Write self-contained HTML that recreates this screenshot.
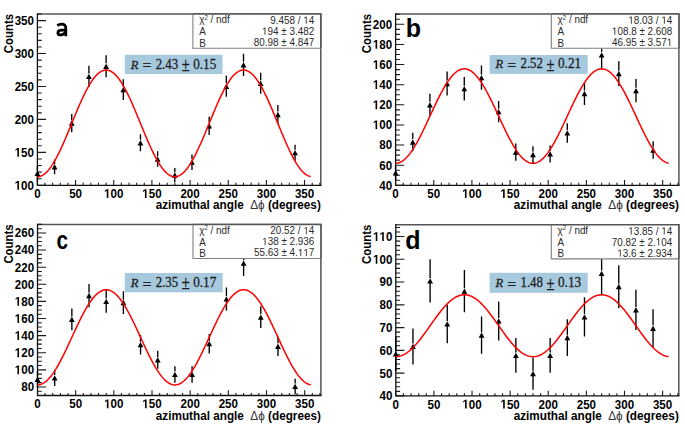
<!DOCTYPE html><html><head><meta charset="utf-8"><style>html,body{margin:0;padding:0;background:#fff;overflow:hidden;}svg{display:block;}text{font-kerning:none;font-variant-ligatures:none;}.tl{font-family:"Liberation Sans",sans-serif;font-weight:bold;font-size:11.6px;fill:#000;white-space:pre;}.st{font-family:"Liberation Sans",sans-serif;font-size:9.9px;fill:#2a2a2a;}.lt{font-family:"Liberation Sans",sans-serif;font-weight:bold;font-size:25px;fill:#000;}.rt{font-family:"Liberation Serif",serif;font-size:13.5px;fill:#1a1a1a;stroke:#1a1a1a;stroke-width:0.25px;}</style></head><body>
<svg width="685" height="425" viewBox="0 0 685 425">
<rect width="685" height="425" fill="#fff"/>
<g><path d="M37.4 14H320.8V185.3" fill="none" stroke="#555" stroke-width="1.5"/><path d="M37.4 13.3V185.3H321.5" fill="none" stroke="#111" stroke-width="1.3"/><path d="M37.4 185.3h8.6 M37.4 178.71h4.3 M37.4 172.12h4.3 M37.4 165.53h4.3 M37.4 158.95h4.3 M37.4 152.36h8.6 M37.4 145.77h4.3 M37.4 139.18h4.3 M37.4 132.59h4.3 M37.4 126h4.3 M37.4 119.42h8.6 M37.4 112.83h4.3 M37.4 106.24h4.3 M37.4 99.65h4.3 M37.4 93.06h4.3 M37.4 86.47h8.6 M37.4 79.88h4.3 M37.4 73.3h4.3 M37.4 66.71h4.3 M37.4 60.12h4.3 M37.4 53.53h8.6 M37.4 46.94h4.3 M37.4 40.35h4.3 M37.4 33.77h4.3 M37.4 27.18h4.3 M37.4 20.59h8.6 M37.4 14h4.3 M37.4 185.3v-5.2 M45.03 185.3v-2.6 M52.67 185.3v-2.6 M60.3 185.3v-2.6 M67.93 185.3v-2.6 M75.57 185.3v-5.2 M83.2 185.3v-2.6 M90.84 185.3v-2.6 M98.47 185.3v-2.6 M106.1 185.3v-2.6 M113.74 185.3v-5.2 M121.37 185.3v-2.6 M129 185.3v-2.6 M136.64 185.3v-2.6 M144.27 185.3v-2.6 M151.91 185.3v-5.2 M159.54 185.3v-2.6 M167.17 185.3v-2.6 M174.81 185.3v-2.6 M182.44 185.3v-2.6 M190.07 185.3v-5.2 M197.71 185.3v-2.6 M205.34 185.3v-2.6 M212.97 185.3v-2.6 M220.61 185.3v-2.6 M228.24 185.3v-5.2 M235.88 185.3v-2.6 M243.51 185.3v-2.6 M251.14 185.3v-2.6 M258.78 185.3v-2.6 M266.41 185.3v-5.2 M274.04 185.3v-2.6 M281.68 185.3v-2.6 M289.31 185.3v-2.6 M296.94 185.3v-2.6 M304.58 185.3v-5.2 M312.21 185.3v-2.6 M319.85 185.3v-2.6" stroke="#1a1a1a" stroke-width="1.1" fill="none"/><g transform="translate(34,189.72) scale(1,1.1)"><text class="tl" x="-19.35" y="0"> 00</text><path d="M-16.65 0L-16.65 -6.63L-18.56 -5.43L-18.56 -6.68L-16.56 -7.98L-15.06 -7.98L-15.06 0Z" fill="#000"/></g><g transform="translate(34,156.77) scale(1,1.1)"><text class="tl" x="-19.35" y="0"> 50</text><path d="M-16.65 0L-16.65 -6.63L-18.56 -5.43L-18.56 -6.68L-16.56 -7.98L-15.06 -7.98L-15.06 0Z" fill="#000"/></g><g transform="translate(34,123.83) scale(1,1.1)"><text class="tl" x="-19.35" y="0">200</text></g><g transform="translate(34,90.89) scale(1,1.1)"><text class="tl" x="-19.35" y="0">250</text></g><g transform="translate(34,57.95) scale(1,1.1)"><text class="tl" x="-19.35" y="0">300</text></g><g transform="translate(34,25) scale(1,1.1)"><text class="tl" x="-19.35" y="0">350</text></g><g transform="translate(37.4,197.97) scale(1,1.1)"><text class="tl" x="-3.23" y="0">0</text></g><g transform="translate(75.57,197.97) scale(1,1.1)"><text class="tl" x="-6.45" y="0">50</text></g><g transform="translate(113.74,197.97) scale(1,1.1)"><text class="tl" x="-9.68" y="0"> 00</text><path d="M-6.97 0L-6.97 -6.63L-8.88 -5.43L-8.88 -6.68L-6.88 -7.98L-5.38 -7.98L-5.38 0Z" fill="#000"/></g><g transform="translate(151.91,197.97) scale(1,1.1)"><text class="tl" x="-9.68" y="0"> 50</text><path d="M-6.97 0L-6.97 -6.63L-8.88 -5.43L-8.88 -6.68L-6.88 -7.98L-5.38 -7.98L-5.38 0Z" fill="#000"/></g><g transform="translate(190.07,197.97) scale(1,1.1)"><text class="tl" x="-9.68" y="0">200</text></g><g transform="translate(228.24,197.97) scale(1,1.1)"><text class="tl" x="-9.68" y="0">250</text></g><g transform="translate(266.41,197.97) scale(1,1.1)"><text class="tl" x="-9.68" y="0">300</text></g><g transform="translate(304.58,197.97) scale(1,1.1)"><text class="tl" x="-9.68" y="0">350</text></g><text class="tl" style="font-size:11.75px" transform="translate(320.8,209.3) scale(1,1.06)" text-anchor="end">azimuthal angle  <tspan style="font-weight:normal;fill:#333">Δϕ</tspan> (degrees)</text><text class="tl" style="font-size:11.4px" transform="translate(12.8,14) rotate(-90) scale(1,1.1)" x="0" y="0" text-anchor="end">Counts</text><path d="M57.3,25.7 C58.7,24.6 60.2,24.2 61.7,24.2 C64.6,24.2 65.8,25.6 65.8,28.4 V36.2" fill="none" stroke="#000" stroke-width="2.8"/><path d="M65.6,30.1 H62.1 C59.3,30.1 57.9,31.2 57.9,32.9 C57.9,34.3 59.0,34.9 60.4,34.9 C62.3,34.9 64.1,33.9 65.4,32.5" fill="none" stroke="#000" stroke-width="2.8"/><path d="M37.4 166.28V170.49 M37.4 173.44V180.6 M54.58 159.4V163.9 M54.58 166.85V174.31 M71.75 113.92V120.15 M71.75 123.1V132.29 M88.93 65.66V73.44 M88.93 76.39V87.12 M106.1 55.28V63.36 M106.1 66.31V77.35 M123.28 79.32V86.69 M123.28 89.64V99.95 M140.45 134.35V139.85 M140.45 142.8V151.25 M157.63 151.29V156.13 M157.63 159.08V166.87 M174.81 168.01V172.14 M174.81 175.09V182.17 M191.98 154.59V159.29 M191.98 162.24V169.9 M209.16 116.72V122.86 M209.16 125.81V134.89 M226.33 75.85V83.33 M226.33 86.28V96.7 M243.51 53.72V61.85 M243.51 64.8V75.88 M260.68 72.79V80.36 M260.68 83.31V93.83 M277.86 105.05V111.59 M277.86 114.54V124.03 M295.04 144.63V149.74 M295.04 152.69V160.74" stroke="#000" stroke-width="1.35" fill="none"/><path d="M37.4 170.69L40.3 176.04L34.5 176.04Z M54.58 164.1L57.48 169.45L51.68 169.45Z M71.75 120.35L74.65 125.7L68.85 125.7Z M88.93 73.64L91.83 78.99L86.03 78.99Z M106.1 63.56L109 68.91L103.2 68.91Z M123.28 86.89L126.18 92.24L120.38 92.24Z M140.45 140.05L143.35 145.4L137.55 145.4Z M157.63 156.33L160.53 161.68L154.73 161.68Z M174.81 172.34L177.71 177.69L171.91 177.69Z M191.98 159.49L194.88 164.84L189.08 164.84Z M209.16 123.06L212.06 128.41L206.26 128.41Z M226.33 83.53L229.23 88.88L223.43 88.88Z M243.51 62.05L246.41 67.4L240.61 67.4Z M260.68 80.56L263.58 85.91L257.78 85.91Z M277.86 111.79L280.76 117.14L274.96 117.14Z M295.04 149.94L297.94 155.29L292.14 155.29Z" fill="#000"/><polyline points="37.4,176.72 38.54,176.65 39.68,176.43 40.82,176.07 41.95,175.57 43.09,174.92 44.23,174.14 45.37,173.22 46.51,172.16 47.65,170.97 48.79,169.65 49.93,168.21 51.06,166.64 52.2,164.96 53.34,163.16 54.48,161.26 55.62,159.25 56.76,157.15 57.9,154.95 59.04,152.67 60.17,150.31 61.31,147.88 62.45,145.38 63.59,142.82 64.73,140.21 65.87,137.55 67.01,134.86 68.14,132.13 69.28,129.38 70.42,126.61 71.56,123.83 72.7,121.06 73.84,118.29 74.98,115.53 76.12,112.79 77.25,110.08 78.39,107.41 79.53,104.79 80.67,102.21 81.81,99.69 82.95,97.23 84.09,94.85 85.22,92.54 86.36,90.31 87.5,88.18 88.64,86.14 89.78,84.2 90.92,82.37 92.06,80.65 93.2,79.04 94.33,77.56 95.47,76.19 96.61,74.96 97.75,73.86 98.89,72.89 100.03,72.06 101.17,71.37 102.31,70.82 103.44,70.41 104.58,70.14 105.72,70.02 106.86,70.05 108,70.22 109.14,70.53 110.28,70.98 111.41,71.58 112.55,72.32 113.69,73.2 114.83,74.21 115.97,75.35 117.11,76.63 118.25,78.03 119.39,79.56 120.52,81.2 121.66,82.96 122.8,84.83 123.94,86.8 125.08,88.87 126.22,91.04 127.36,93.29 128.5,95.62 129.63,98.03 130.77,100.51 131.91,103.05 133.05,105.65 134.19,108.29 135.33,110.97 136.47,113.69 137.6,116.44 138.74,119.2 139.88,121.97 141.02,124.75 142.16,127.52 143.3,130.29 144.44,133.03 145.58,135.75 146.71,138.43 147.85,141.08 148.99,143.67 150.13,146.21 151.27,148.69 152.41,151.1 153.55,153.43 154.68,155.69 155.82,157.85 156.96,159.93 158.1,161.9 159.24,163.77 160.38,165.53 161.52,167.17 162.66,168.7 163.79,170.1 164.93,171.38 166.07,172.52 167.21,173.54 168.35,174.41 169.49,175.15 170.63,175.75 171.77,176.21 172.9,176.52 174.04,176.69 175.18,176.71 176.32,176.59 177.46,176.33 178.6,175.92 179.74,175.37 180.87,174.68 182.01,173.85 183.15,172.88 184.29,171.78 185.43,170.55 186.57,169.19 187.71,167.7 188.85,166.1 189.98,164.38 191.12,162.55 192.26,160.61 193.4,158.57 194.54,156.44 195.68,154.21 196.82,151.9 197.96,149.52 199.09,147.06 200.23,144.54 201.37,141.97 202.51,139.34 203.65,136.67 204.79,133.96 205.93,131.22 207.06,128.47 208.2,125.7 209.34,122.92 210.48,120.14 211.62,117.37 212.76,114.62 213.9,111.9 215.04,109.2 216.17,106.54 217.31,103.93 218.45,101.37 219.59,98.87 220.73,96.44 221.87,94.08 223.01,91.8 224.15,89.6 225.28,87.5 226.42,85.49 227.56,83.58 228.7,81.79 229.84,80.1 230.98,78.54 232.12,77.09 233.25,75.77 234.39,74.58 235.53,73.53 236.67,72.6 237.81,71.82 238.95,71.17 240.09,70.67 241.23,70.31 242.36,70.09 243.5,70.02 244.64,70.09 245.78,70.3 246.92,70.66 248.06,71.16 249.2,71.81 250.33,72.59 251.47,73.51 252.61,74.57 253.75,75.76 254.89,77.08 256.03,78.52 257.17,80.09 258.31,81.77 259.44,83.56 260.58,85.47 261.72,87.47 262.86,89.58 264,91.77 265.14,94.05 266.28,96.41 267.42,98.84 268.55,101.34 269.69,103.9 270.83,106.51 271.97,109.17 273.11,111.87 274.25,114.59 275.39,117.34 276.52,120.11 277.66,122.89 278.8,125.66 279.94,128.44 281.08,131.19 282.22,133.93 283.36,136.64 284.5,139.31 285.63,141.94 286.77,144.51 287.91,147.04 289.05,149.49 290.19,151.88 291.33,154.19 292.47,156.41 293.61,158.55 294.74,160.59 295.88,162.53 297.02,164.36 298.16,166.08 299.3,167.69 300.44,169.17 301.58,170.53 302.71,171.77 303.85,172.87 304.99,173.84 306.13,174.67 307.27,175.36 308.41,175.92 309.55,176.33 310.69,176.59" fill="none" stroke="#ff0000" stroke-width="1.5"/><rect x="192.9" y="14" width="127.9" height="34.3" fill="#fff"/><path d="M192.9 14V48.3H320.8" fill="none" stroke="#808080" stroke-width="1.1"/><path d="M192.9 14H320.8V48.3" fill="none" stroke="#555" stroke-width="1.5"/><text class="st" transform="translate(199.2,23.1) scale(1,1.06)">χ<tspan dy="-3.3" font-size="6px">2</tspan><tspan dy="3.3"> / ndf</tspan></text><g transform="translate(314.3,23.8) scale(1,1.06)"><text class="st" x="-44.04" y="0">9.458 /  4</text><path d="M-8.52 0L-8.52 -5.98L-10.06 -4.88L-10.06 -5.7L-8.45 -6.81L-7.65 -6.81L-7.65 0Z" fill="#2a2a2a"/></g><text class="st" transform="translate(199.2,35.2) scale(1,1.06)">A</text><g transform="translate(314.3,34.8) scale(1,1.06)"><text class="st" x="-52.23" y="0"> 94 ± 3.482</text><path d="M-49.74 0L-49.74 -5.98L-51.27 -4.88L-51.27 -5.7L-49.66 -6.81L-48.86 -6.81L-48.86 0Z" fill="#2a2a2a"/></g><text class="st" transform="translate(199.2,46.5) scale(1,1.06)">B</text><g transform="translate(314.3,45.9) scale(1,1.06)"><text class="st" x="-60.48" y="0">80.98 ± 4.847</text></g><rect x="124.8" y="54.8" width="97.7" height="19.3" fill="#a7c9dd"/><text class="rt" transform="translate(130.8,68.6) scale(1,1.08)" style="font-style:italic;font-size:12.5px">R</text><text class="rt" x="142.4" y="71.4" style="font-size:15.8px">=</text><text class="rt" transform="translate(155.7,68.6) scale(1,1.1)" style="font-size:12.8px">2.43</text><text class="rt" transform="translate(181.7,69.6) scale(1,1.25)" y="1.2" style="font-size:14.5px">±</text><text class="rt" transform="translate(193.2,68.6) scale(1,1.1)" style="font-size:13.2px">0.15</text></g>
<g><path d="M395.6 14H678.9V185.3" fill="none" stroke="#555" stroke-width="1.5"/><path d="M395.6 13.3V185.3H679.6" fill="none" stroke="#111" stroke-width="1.3"/><path d="M395.6 185.3h8.6 M395.6 180.27h4.3 M395.6 175.24h4.3 M395.6 170.21h4.3 M395.6 165.18h8.6 M395.6 160.14h4.3 M395.6 155.11h4.3 M395.6 150.08h4.3 M395.6 145.05h8.6 M395.6 140.02h4.3 M395.6 134.99h4.3 M395.6 129.96h4.3 M395.6 124.93h8.6 M395.6 119.9h4.3 M395.6 114.86h4.3 M395.6 109.83h4.3 M395.6 104.8h8.6 M395.6 99.77h4.3 M395.6 94.74h4.3 M395.6 89.71h4.3 M395.6 84.68h8.6 M395.6 79.65h4.3 M395.6 74.62h4.3 M395.6 69.58h4.3 M395.6 64.55h8.6 M395.6 59.52h4.3 M395.6 54.49h4.3 M395.6 49.46h4.3 M395.6 44.43h8.6 M395.6 39.4h4.3 M395.6 34.37h4.3 M395.6 29.33h4.3 M395.6 24.3h8.6 M395.6 19.27h4.3 M395.6 14.24h4.3 M395.6 185.3v-5.2 M403.23 185.3v-2.6 M410.86 185.3v-2.6 M418.49 185.3v-2.6 M426.12 185.3v-2.6 M433.75 185.3v-5.2 M441.39 185.3v-2.6 M449.02 185.3v-2.6 M456.65 185.3v-2.6 M464.28 185.3v-2.6 M471.91 185.3v-5.2 M479.54 185.3v-2.6 M487.17 185.3v-2.6 M494.8 185.3v-2.6 M502.43 185.3v-2.6 M510.06 185.3v-5.2 M517.7 185.3v-2.6 M525.33 185.3v-2.6 M532.96 185.3v-2.6 M540.59 185.3v-2.6 M548.22 185.3v-5.2 M555.85 185.3v-2.6 M563.48 185.3v-2.6 M571.11 185.3v-2.6 M578.74 185.3v-2.6 M586.37 185.3v-5.2 M594.01 185.3v-2.6 M601.64 185.3v-2.6 M609.27 185.3v-2.6 M616.9 185.3v-2.6 M624.53 185.3v-5.2 M632.16 185.3v-2.6 M639.79 185.3v-2.6 M647.42 185.3v-2.6 M655.05 185.3v-2.6 M662.68 185.3v-5.2 M670.32 185.3v-2.6 M677.95 185.3v-2.6" stroke="#1a1a1a" stroke-width="1.1" fill="none"/><g transform="translate(392.2,189.72) scale(1,1.1)"><text class="tl" x="-12.9" y="0">40</text></g><g transform="translate(392.2,169.59) scale(1,1.1)"><text class="tl" x="-12.9" y="0">60</text></g><g transform="translate(392.2,149.47) scale(1,1.1)"><text class="tl" x="-12.9" y="0">80</text></g><g transform="translate(392.2,129.34) scale(1,1.1)"><text class="tl" x="-19.35" y="0"> 00</text><path d="M-16.65 0L-16.65 -6.63L-18.56 -5.43L-18.56 -6.68L-16.56 -7.98L-15.06 -7.98L-15.06 0Z" fill="#000"/></g><g transform="translate(392.2,109.22) scale(1,1.1)"><text class="tl" x="-19.35" y="0"> 20</text><path d="M-16.65 0L-16.65 -6.63L-18.56 -5.43L-18.56 -6.68L-16.56 -7.98L-15.06 -7.98L-15.06 0Z" fill="#000"/></g><g transform="translate(392.2,89.09) scale(1,1.1)"><text class="tl" x="-19.35" y="0"> 40</text><path d="M-16.65 0L-16.65 -6.63L-18.56 -5.43L-18.56 -6.68L-16.56 -7.98L-15.06 -7.98L-15.06 0Z" fill="#000"/></g><g transform="translate(392.2,68.97) scale(1,1.1)"><text class="tl" x="-19.35" y="0"> 60</text><path d="M-16.65 0L-16.65 -6.63L-18.56 -5.43L-18.56 -6.68L-16.56 -7.98L-15.06 -7.98L-15.06 0Z" fill="#000"/></g><g transform="translate(392.2,48.84) scale(1,1.1)"><text class="tl" x="-19.35" y="0"> 80</text><path d="M-16.65 0L-16.65 -6.63L-18.56 -5.43L-18.56 -6.68L-16.56 -7.98L-15.06 -7.98L-15.06 0Z" fill="#000"/></g><g transform="translate(392.2,28.72) scale(1,1.1)"><text class="tl" x="-19.35" y="0">200</text></g><g transform="translate(395.6,197.97) scale(1,1.1)"><text class="tl" x="-3.23" y="0">0</text></g><g transform="translate(433.75,197.97) scale(1,1.1)"><text class="tl" x="-6.45" y="0">50</text></g><g transform="translate(471.91,197.97) scale(1,1.1)"><text class="tl" x="-9.68" y="0"> 00</text><path d="M-6.97 0L-6.97 -6.63L-8.88 -5.43L-8.88 -6.68L-6.88 -7.98L-5.38 -7.98L-5.38 0Z" fill="#000"/></g><g transform="translate(510.06,197.97) scale(1,1.1)"><text class="tl" x="-9.68" y="0"> 50</text><path d="M-6.97 0L-6.97 -6.63L-8.88 -5.43L-8.88 -6.68L-6.88 -7.98L-5.38 -7.98L-5.38 0Z" fill="#000"/></g><g transform="translate(548.22,197.97) scale(1,1.1)"><text class="tl" x="-9.68" y="0">200</text></g><g transform="translate(586.37,197.97) scale(1,1.1)"><text class="tl" x="-9.68" y="0">250</text></g><g transform="translate(624.53,197.97) scale(1,1.1)"><text class="tl" x="-9.68" y="0">300</text></g><g transform="translate(662.68,197.97) scale(1,1.1)"><text class="tl" x="-9.68" y="0">350</text></g><text class="tl" style="font-size:11.75px" transform="translate(678.9,209.3) scale(1,1.06)" text-anchor="end">azimuthal angle  <tspan style="font-weight:normal;fill:#333">Δϕ</tspan> (degrees)</text><text class="tl" style="font-size:11.4px" transform="translate(371.1,14) rotate(-90) scale(1,1.1)" x="0" y="0" text-anchor="end">Counts</text><text class="lt" transform="translate(405.7,36.5) scale(1.0,1)">b</text><path d="M395.6 165.54V169.87 M395.6 172.82V180.11 M412.77 132.87V139.08 M412.77 142.03V151.2 M429.94 93.78V101.85 M429.94 104.8V115.82 M447.11 71.62V80.62 M447.11 83.57V95.52 M464.28 76.97V85.75 M464.28 88.7V100.44 M481.45 65.43V74.68 M481.45 77.63V89.83 M498.62 100.94V108.69 M498.62 111.64V122.35 M515.79 143.5V149.14 M515.79 152.09V160.69 M532.96 146.16V151.66 M532.96 154.61V163.06 M550.13 145.42V150.96 M550.13 153.91V162.4 M567.3 123.32V130.03 M567.3 132.98V142.63 M584.47 82.01V90.58 M584.47 93.53V105.06 M601.64 41.89V52.04 M601.64 54.99V68.09 M618.81 61.24V70.66 M618.81 73.61V85.97 M635.98 79.07V87.76 M635.98 90.71V102.36 M653.15 141.37V147.13 M653.15 150.08V158.8" stroke="#000" stroke-width="1.35" fill="none"/><path d="M395.6 170.07L398.5 175.42L392.7 175.42Z M412.77 139.28L415.67 144.63L409.87 144.63Z M429.94 102.05L432.84 107.4L427.04 107.4Z M447.11 80.82L450.01 86.17L444.21 86.17Z M464.28 85.95L467.18 91.3L461.38 91.3Z M481.45 74.88L484.35 80.23L478.55 80.23Z M498.62 108.89L501.52 114.24L495.72 114.24Z M515.79 149.34L518.69 154.69L512.89 154.69Z M532.96 151.86L535.86 157.21L530.06 157.21Z M550.13 151.16L553.03 156.51L547.23 156.51Z M567.3 130.23L570.2 135.58L564.4 135.58Z M584.47 90.78L587.37 96.13L581.57 96.13Z M601.64 52.24L604.54 57.59L598.74 57.59Z M618.81 70.86L621.71 76.21L615.91 76.21Z M635.98 87.96L638.88 93.31L633.08 93.31Z M653.15 147.33L656.05 152.68L650.25 152.68Z" fill="#000"/><polyline points="395.6,163.31 396.74,163.25 397.88,163.06 399.01,162.74 400.15,162.29 401.29,161.72 402.43,161.03 403.57,160.21 404.71,159.27 405.84,158.22 406.98,157.05 408.12,155.77 409.26,154.39 410.4,152.9 411.54,151.31 412.67,149.62 413.81,147.85 414.95,145.98 416.09,144.04 417.23,142.02 418.37,139.93 419.5,137.78 420.64,135.56 421.78,133.3 422.92,130.98 424.06,128.63 425.2,126.24 426.33,123.83 427.47,121.39 428.61,118.94 429.75,116.48 430.89,114.02 432.03,111.57 433.16,109.13 434.3,106.71 435.44,104.31 436.58,101.94 437.72,99.62 438.85,97.33 439.99,95.1 441.13,92.93 442.27,90.82 443.41,88.77 444.55,86.8 445.68,84.91 446.82,83.11 447.96,81.39 449.1,79.77 450.24,78.24 451.38,76.82 452.51,75.51 453.65,74.3 454.79,73.21 455.93,72.23 457.07,71.38 458.21,70.64 459.34,70.03 460.48,69.54 461.62,69.18 462.76,68.94 463.9,68.84 465.04,68.86 466.17,69.01 467.31,69.28 468.45,69.69 469.59,70.22 470.73,70.87 471.87,71.65 473,72.54 474.14,73.56 475.28,74.69 476.42,75.93 477.56,77.28 478.69,78.73 479.83,80.29 480.97,81.95 482.11,83.69 483.25,85.53 484.39,87.44 485.52,89.44 486.66,91.5 487.8,93.64 488.94,95.83 490.08,98.08 491.22,100.38 492.35,102.72 493.49,105.1 494.63,107.5 495.77,109.93 496.91,112.38 498.05,114.83 499.18,117.29 500.32,119.75 501.46,122.2 502.6,124.63 503.74,127.03 504.88,129.41 506.01,131.75 507.15,134.05 508.29,136.3 509.43,138.49 510.57,140.63 511.71,142.69 512.84,144.69 513.98,146.61 515.12,148.44 516.26,150.19 517.4,151.84 518.54,153.4 519.67,154.86 520.81,156.21 521.95,157.45 523.09,158.58 524.23,159.6 525.36,160.49 526.5,161.27 527.64,161.92 528.78,162.45 529.92,162.86 531.06,163.14 532.19,163.29 533.33,163.31 534.47,163.2 535.61,162.97 536.75,162.61 537.89,162.12 539.02,161.51 540.16,160.77 541.3,159.92 542.44,158.94 543.58,157.85 544.72,156.64 545.85,155.33 546.99,153.91 548.13,152.38 549.27,150.76 550.41,149.05 551.55,147.24 552.68,145.35 553.82,143.38 554.96,141.34 556.1,139.23 557.24,137.05 558.38,134.82 559.51,132.54 560.65,130.21 561.79,127.85 562.93,125.45 564.07,123.03 565.2,120.59 566.34,118.13 567.48,115.67 568.62,113.21 569.76,110.76 570.9,108.33 572.03,105.91 573.17,103.53 574.31,101.17 575.45,98.86 576.59,96.59 577.73,94.38 578.86,92.22 580,90.13 581.14,88.11 582.28,86.17 583.42,84.31 584.56,82.53 585.69,80.84 586.83,79.25 587.97,77.76 589.11,76.38 590.25,75.1 591.39,73.93 592.52,72.87 593.66,71.94 594.8,71.12 595.94,70.42 597.08,69.85 598.22,69.41 599.35,69.09 600.49,68.89 601.63,68.83 602.77,68.89 603.91,69.08 605.04,69.4 606.18,69.85 607.32,70.42 608.46,71.11 609.6,71.93 610.74,72.86 611.87,73.92 613.01,75.08 614.15,76.36 615.29,77.75 616.43,79.24 617.57,80.83 618.7,82.51 619.84,84.29 620.98,86.15 622.12,88.09 623.26,90.11 624.4,92.2 625.53,94.36 626.67,96.57 627.81,98.83 628.95,101.15 630.09,103.5 631.23,105.89 632.36,108.3 633.5,110.74 634.64,113.19 635.78,115.65 636.92,118.1 638.06,120.56 639.19,123 640.33,125.42 641.47,127.82 642.61,130.19 643.75,132.51 644.88,134.8 646.02,137.03 647.16,139.2 648.3,141.32 649.44,143.36 650.58,145.33 651.71,147.22 652.85,149.03 653.99,150.74 655.13,152.37 656.27,153.89 657.41,155.31 658.54,156.63 659.68,157.84 660.82,158.93 661.96,159.9 663.1,160.76 664.24,161.5 665.37,162.11 666.51,162.6 667.65,162.96 668.79,163.2" fill="none" stroke="#ff0000" stroke-width="1.5"/><rect x="551.3" y="14" width="127.6" height="34.2" fill="#fff"/><path d="M551.3 14V48.2H678.9" fill="none" stroke="#808080" stroke-width="1.1"/><path d="M551.3 14H678.9V48.2" fill="none" stroke="#555" stroke-width="1.5"/><text class="st" transform="translate(557.6,23.1) scale(1,1.06)">χ<tspan dy="-3.3" font-size="6px">2</tspan><tspan dy="3.3"> / ndf</tspan></text><g transform="translate(672.4,23.8) scale(1,1.06)"><text class="st" x="-44.04" y="0"> 8.03 /  4</text><path d="M-41.55 0L-41.55 -5.98L-43.09 -4.88L-43.09 -5.7L-41.48 -6.81L-40.67 -6.81L-40.67 0Z M-8.52 0L-8.52 -5.98L-10.06 -4.88L-10.06 -5.7L-8.45 -6.81L-7.65 -6.81L-7.65 0Z" fill="#2a2a2a"/></g><text class="st" transform="translate(557.6,35.2) scale(1,1.06)">A</text><g transform="translate(672.4,34.8) scale(1,1.06)"><text class="st" x="-60.48" y="0"> 08.8 ± 2.608</text><path d="M-57.99 0L-57.99 -5.98L-59.53 -4.88L-59.53 -5.7L-57.92 -6.81L-57.12 -6.81L-57.12 0Z" fill="#2a2a2a"/></g><text class="st" transform="translate(557.6,46.5) scale(1,1.06)">B</text><g transform="translate(672.4,45.9) scale(1,1.06)"><text class="st" x="-60.48" y="0">46.95 ± 3.57 </text><path d="M-3.02 0L-3.02 -5.98L-4.55 -4.88L-4.55 -5.7L-2.94 -6.81L-2.14 -6.81L-2.14 0Z" fill="#2a2a2a"/></g><rect x="489.6" y="55" width="98.1" height="18.9" fill="#a7c9dd"/><text class="rt" transform="translate(495.6,68.4) scale(1,1.08)" style="font-style:italic;font-size:12.5px">R</text><text class="rt" x="507.2" y="71.2" style="font-size:15.8px">=</text><text class="rt" transform="translate(520.5,68.4) scale(1,1.1)" style="font-size:12.8px">2.52</text><text class="rt" transform="translate(546.5,69.4) scale(1,1.25)" y="1.2" style="font-size:14.5px">±</text><text class="rt" transform="translate(558,68.4) scale(1,1.1)" style="font-size:13.2px">0.21</text></g>
<g><path d="M37.5 224.4H320.9V395.5" fill="none" stroke="#555" stroke-width="1.5"/><path d="M37.5 223.7V395.5H321.6" fill="none" stroke="#111" stroke-width="1.3"/><path d="M37.5 395.5h4.3 M37.5 391.22h4.3 M37.5 386.94h8.6 M37.5 382.67h4.3 M37.5 378.39h4.3 M37.5 374.11h4.3 M37.5 369.83h8.6 M37.5 365.56h4.3 M37.5 361.28h4.3 M37.5 357h4.3 M37.5 352.73h8.6 M37.5 348.45h4.3 M37.5 344.17h4.3 M37.5 339.89h4.3 M37.5 335.62h8.6 M37.5 331.34h4.3 M37.5 327.06h4.3 M37.5 322.78h4.3 M37.5 318.5h8.6 M37.5 314.23h4.3 M37.5 309.95h4.3 M37.5 305.67h4.3 M37.5 301.39h8.6 M37.5 297.12h4.3 M37.5 292.84h4.3 M37.5 288.56h4.3 M37.5 284.29h8.6 M37.5 280.01h4.3 M37.5 275.73h4.3 M37.5 271.45h4.3 M37.5 267.18h8.6 M37.5 262.9h4.3 M37.5 258.62h4.3 M37.5 254.34h4.3 M37.5 250.07h8.6 M37.5 245.79h4.3 M37.5 241.51h4.3 M37.5 237.23h4.3 M37.5 232.96h8.6 M37.5 228.68h4.3 M37.5 224.4h4.3 M37.5 395.5v-5.2 M45.13 395.5v-2.6 M52.77 395.5v-2.6 M60.4 395.5v-2.6 M68.03 395.5v-2.6 M75.67 395.5v-5.2 M83.3 395.5v-2.6 M90.94 395.5v-2.6 M98.57 395.5v-2.6 M106.2 395.5v-2.6 M113.84 395.5v-5.2 M121.47 395.5v-2.6 M129.1 395.5v-2.6 M136.74 395.5v-2.6 M144.37 395.5v-2.6 M152.01 395.5v-5.2 M159.64 395.5v-2.6 M167.27 395.5v-2.6 M174.91 395.5v-2.6 M182.54 395.5v-2.6 M190.17 395.5v-5.2 M197.81 395.5v-2.6 M205.44 395.5v-2.6 M213.07 395.5v-2.6 M220.71 395.5v-2.6 M228.34 395.5v-5.2 M235.98 395.5v-2.6 M243.61 395.5v-2.6 M251.24 395.5v-2.6 M258.88 395.5v-2.6 M266.51 395.5v-5.2 M274.14 395.5v-2.6 M281.78 395.5v-2.6 M289.41 395.5v-2.6 M297.04 395.5v-2.6 M304.68 395.5v-5.2 M312.31 395.5v-2.6 M319.95 395.5v-2.6" stroke="#1a1a1a" stroke-width="1.1" fill="none"/><g transform="translate(34.1,391.36) scale(1,1.1)"><text class="tl" x="-12.9" y="0">80</text></g><g transform="translate(34.1,374.25) scale(1,1.1)"><text class="tl" x="-19.35" y="0"> 00</text><path d="M-16.65 0L-16.65 -6.63L-18.56 -5.43L-18.56 -6.68L-16.56 -7.98L-15.06 -7.98L-15.06 0Z" fill="#000"/></g><g transform="translate(34.1,357.14) scale(1,1.1)"><text class="tl" x="-19.35" y="0"> 20</text><path d="M-16.65 0L-16.65 -6.63L-18.56 -5.43L-18.56 -6.68L-16.56 -7.98L-15.06 -7.98L-15.06 0Z" fill="#000"/></g><g transform="translate(34.1,340.03) scale(1,1.1)"><text class="tl" x="-19.35" y="0"> 40</text><path d="M-16.65 0L-16.65 -6.63L-18.56 -5.43L-18.56 -6.68L-16.56 -7.98L-15.06 -7.98L-15.06 0Z" fill="#000"/></g><g transform="translate(34.1,322.92) scale(1,1.1)"><text class="tl" x="-19.35" y="0"> 60</text><path d="M-16.65 0L-16.65 -6.63L-18.56 -5.43L-18.56 -6.68L-16.56 -7.98L-15.06 -7.98L-15.06 0Z" fill="#000"/></g><g transform="translate(34.1,305.81) scale(1,1.1)"><text class="tl" x="-19.35" y="0"> 80</text><path d="M-16.65 0L-16.65 -6.63L-18.56 -5.43L-18.56 -6.68L-16.56 -7.98L-15.06 -7.98L-15.06 0Z" fill="#000"/></g><g transform="translate(34.1,288.7) scale(1,1.1)"><text class="tl" x="-19.35" y="0">200</text></g><g transform="translate(34.1,271.59) scale(1,1.1)"><text class="tl" x="-19.35" y="0">220</text></g><g transform="translate(34.1,254.48) scale(1,1.1)"><text class="tl" x="-19.35" y="0">240</text></g><g transform="translate(34.1,237.37) scale(1,1.1)"><text class="tl" x="-19.35" y="0">260</text></g><g transform="translate(37.5,408.17) scale(1,1.1)"><text class="tl" x="-3.23" y="0">0</text></g><g transform="translate(75.67,408.17) scale(1,1.1)"><text class="tl" x="-6.45" y="0">50</text></g><g transform="translate(113.84,408.17) scale(1,1.1)"><text class="tl" x="-9.68" y="0"> 00</text><path d="M-6.97 0L-6.97 -6.63L-8.88 -5.43L-8.88 -6.68L-6.88 -7.98L-5.38 -7.98L-5.38 0Z" fill="#000"/></g><g transform="translate(152.01,408.17) scale(1,1.1)"><text class="tl" x="-9.68" y="0"> 50</text><path d="M-6.97 0L-6.97 -6.63L-8.88 -5.43L-8.88 -6.68L-6.88 -7.98L-5.38 -7.98L-5.38 0Z" fill="#000"/></g><g transform="translate(190.17,408.17) scale(1,1.1)"><text class="tl" x="-9.68" y="0">200</text></g><g transform="translate(228.34,408.17) scale(1,1.1)"><text class="tl" x="-9.68" y="0">250</text></g><g transform="translate(266.51,408.17) scale(1,1.1)"><text class="tl" x="-9.68" y="0">300</text></g><g transform="translate(304.68,408.17) scale(1,1.1)"><text class="tl" x="-9.68" y="0">350</text></g><text class="tl" style="font-size:11.75px" transform="translate(320.9,419.5) scale(1,1.06)" text-anchor="end">azimuthal angle  <tspan style="font-weight:normal;fill:#333">Δϕ</tspan> (degrees)</text><text class="tl" style="font-size:11.4px" transform="translate(12.9,224.4) rotate(-90) scale(1,1.1)" x="0" y="0" text-anchor="end">Counts</text><text class="lt" transform="translate(56.5,249.1) scale(0.83,1)">c</text><path d="M37.5 371.26V376.38 M37.5 379.33V387.4 M54.68 369.73V374.93 M54.68 377.88V386.02 M71.85 308.57V316.41 M71.85 319.36V330.15 M89.03 283.89V292.63 M89.03 295.58V307.27 M106.2 289.92V298.44 M106.2 301.39V312.87 M123.38 291.16V299.64 M123.38 302.59V314.03 M140.55 335.04V341.82 M140.55 344.77V354.5 M157.73 350.78V356.88 M157.73 359.83V368.87 M174.91 366.13V371.5 M174.91 374.45V382.78 M192.08 366.13V371.5 M192.08 374.45V382.78 M209.26 333.88V340.71 M209.26 343.66V353.43 M226.43 287.43V296.05 M226.43 299V310.57 M243.61 250.33V260.2 M243.61 263.15V275.98 M260.78 306.26V314.19 M260.78 317.14V328.01 M277.96 336.65V343.36 M277.96 346.31V355.97 M295.14 378.84V383.57 M295.14 386.52V394.19" stroke="#000" stroke-width="1.35" fill="none"/><path d="M37.5 376.58L40.4 381.93L34.6 381.93Z M54.68 375.13L57.58 380.48L51.78 380.48Z M71.85 316.61L74.75 321.96L68.95 321.96Z M89.03 292.83L91.93 298.18L86.13 298.18Z M106.2 298.64L109.1 304L103.3 304Z M123.38 299.84L126.28 305.19L120.48 305.19Z M140.55 342.02L143.45 347.37L137.65 347.37Z M157.73 357.08L160.63 362.43L154.83 362.43Z M174.91 371.7L177.81 377.05L172.01 377.05Z M192.08 371.7L194.98 377.05L189.18 377.05Z M209.26 340.91L212.16 346.26L206.36 346.26Z M226.43 296.25L229.33 301.6L223.53 301.6Z M243.61 260.4L246.51 265.75L240.71 265.75Z M260.78 314.39L263.68 319.74L257.88 319.74Z M277.96 343.56L280.86 348.91L275.06 348.91Z M295.14 383.77L298.04 389.12L292.24 389.12Z" fill="#000"/><polyline points="37.5,384.92 38.64,384.85 39.78,384.66 40.92,384.34 42.05,383.89 43.19,383.31 44.33,382.61 45.47,381.79 46.61,380.85 47.75,379.79 48.89,378.61 50.03,377.32 51.16,375.93 52.3,374.42 53.44,372.82 54.58,371.12 55.72,369.34 56.86,367.46 58,365.5 59.14,363.47 60.27,361.36 61.41,359.19 62.55,356.96 63.69,354.68 64.83,352.35 65.97,349.98 67.11,347.57 68.24,345.14 69.38,342.69 70.52,340.22 71.66,337.74 72.8,335.26 73.94,332.79 75.08,330.33 76.22,327.89 77.35,325.48 78.49,323.09 79.63,320.75 80.77,318.45 81.91,316.2 83.05,314.01 84.19,311.88 85.32,309.82 86.46,307.84 87.6,305.94 88.74,304.12 89.88,302.39 91.02,300.75 92.16,299.22 93.3,297.79 94.43,296.46 95.57,295.25 96.71,294.15 97.85,293.16 98.99,292.3 100.13,291.56 101.27,290.94 102.41,290.45 103.54,290.09 104.68,289.85 105.82,289.74 106.96,289.76 108.1,289.91 109.24,290.19 110.38,290.6 111.51,291.13 112.65,291.79 113.79,292.57 114.93,293.47 116.07,294.5 117.21,295.63 118.35,296.89 119.49,298.25 120.62,299.71 121.76,301.28 122.9,302.95 124.04,304.71 125.18,306.55 126.32,308.49 127.46,310.5 128.6,312.58 129.73,314.73 130.87,316.94 132.01,319.2 133.15,321.52 134.29,323.88 135.43,326.27 136.57,328.69 137.7,331.14 138.84,333.61 139.98,336.08 141.12,338.56 142.26,341.03 143.4,343.5 144.54,345.94 145.68,348.37 146.81,350.76 147.95,353.12 149.09,355.44 150.23,357.7 151.37,359.91 152.51,362.06 153.65,364.15 154.78,366.15 155.92,368.09 157.06,369.93 158.2,371.69 159.34,373.36 160.48,374.93 161.62,376.4 162.76,377.76 163.89,379.01 165.03,380.15 166.17,381.17 167.31,382.08 168.45,382.86 169.59,383.52 170.73,384.05 171.87,384.46 173,384.74 174.14,384.89 175.28,384.91 176.42,384.8 177.56,384.57 178.7,384.2 179.84,383.71 180.97,383.1 182.11,382.36 183.25,381.49 184.39,380.51 185.53,379.41 186.67,378.2 187.81,376.87 188.95,375.44 190.08,373.91 191.22,372.27 192.36,370.54 193.5,368.73 194.64,366.82 195.78,364.84 196.92,362.78 198.06,360.65 199.19,358.46 200.33,356.21 201.47,353.92 202.61,351.57 203.75,349.19 204.89,346.77 206.03,344.33 207.16,341.87 208.3,339.4 209.44,336.92 210.58,334.45 211.72,331.98 212.86,329.53 214,327.09 215.14,324.69 216.27,322.32 217.41,319.99 218.55,317.7 219.69,315.47 220.83,313.3 221.97,311.2 223.11,309.16 224.25,307.2 225.38,305.33 226.52,303.54 227.66,301.84 228.8,300.24 229.94,298.73 231.08,297.34 232.22,296.05 233.35,294.87 234.49,293.81 235.63,292.87 236.77,292.04 237.91,291.34 239.05,290.77 240.19,290.32 241.33,289.99 242.46,289.8 243.6,289.73 244.74,289.8 245.88,289.99 247.02,290.31 248.16,290.76 249.3,291.33 250.43,292.03 251.57,292.86 252.71,293.8 253.85,294.86 254.99,296.03 256.13,297.32 257.27,298.72 258.41,300.22 259.54,301.82 260.68,303.52 261.82,305.31 262.96,307.18 264.1,309.14 265.24,311.17 266.38,313.28 267.52,315.45 268.65,317.68 269.79,319.96 270.93,322.29 272.07,324.66 273.21,327.07 274.35,329.5 275.49,331.95 276.62,334.42 277.76,336.9 278.9,339.37 280.04,341.85 281.18,344.31 282.32,346.75 283.46,349.16 284.6,351.54 285.73,353.89 286.87,356.19 288.01,358.44 289.15,360.63 290.29,362.76 291.43,364.82 292.57,366.8 293.71,368.71 294.84,370.52 295.98,372.25 297.12,373.89 298.26,375.43 299.4,376.86 300.54,378.18 301.68,379.4 302.81,380.5 303.95,381.48 305.09,382.35 306.23,383.09 307.37,383.71 308.51,384.2 309.65,384.56 310.79,384.8" fill="none" stroke="#ff0000" stroke-width="1.5"/><rect x="193" y="224.4" width="127.9" height="34.1" fill="#fff"/><path d="M193 224.4V258.5H320.9" fill="none" stroke="#808080" stroke-width="1.1"/><path d="M193 224.4H320.9V258.5" fill="none" stroke="#555" stroke-width="1.5"/><text class="st" transform="translate(199.3,233.5) scale(1,1.06)">χ<tspan dy="-3.3" font-size="6px">2</tspan><tspan dy="3.3"> / ndf</tspan></text><g transform="translate(314.4,234.2) scale(1,1.06)"><text class="st" x="-44.04" y="0">20.52 /  4</text><path d="M-8.52 0L-8.52 -5.98L-10.06 -4.88L-10.06 -5.7L-8.45 -6.81L-7.65 -6.81L-7.65 0Z" fill="#2a2a2a"/></g><text class="st" transform="translate(199.3,245.6) scale(1,1.06)">A</text><g transform="translate(314.4,245.2) scale(1,1.06)"><text class="st" x="-52.23" y="0"> 38 ± 2.936</text><path d="M-49.74 0L-49.74 -5.98L-51.27 -4.88L-51.27 -5.7L-49.66 -6.81L-48.86 -6.81L-48.86 0Z" fill="#2a2a2a"/></g><text class="st" transform="translate(199.3,256.9) scale(1,1.06)">B</text><g transform="translate(314.4,256.3) scale(1,1.06)"><text class="st" x="-60.48" y="0">55.63 ± 4.  7</text><path d="M-14.03 0L-14.03 -5.98L-15.57 -4.88L-15.57 -5.7L-13.96 -6.81L-13.15 -6.81L-13.15 0Z M-8.52 0L-8.52 -5.98L-10.06 -4.88L-10.06 -5.7L-8.45 -6.81L-7.65 -6.81L-7.65 0Z" fill="#2a2a2a"/></g><rect x="124.8" y="273" width="97.9" height="19.3" fill="#a7c9dd"/><text class="rt" transform="translate(130.8,286.8) scale(1,1.08)" style="font-style:italic;font-size:12.5px">R</text><text class="rt" x="142.4" y="289.6" style="font-size:15.8px">=</text><text class="rt" transform="translate(155.7,286.8) scale(1,1.1)" style="font-size:12.8px">2.35</text><text class="rt" transform="translate(181.7,287.8) scale(1,1.25)" y="1.2" style="font-size:14.5px">±</text><text class="rt" transform="translate(193.2,286.8) scale(1,1.1)" style="font-size:13.2px">0.17</text></g>
<g><path d="M395.8 224.7H678.8V395.9" fill="none" stroke="#555" stroke-width="1.5"/><path d="M395.8 224V395.9H679.5" fill="none" stroke="#111" stroke-width="1.3"/><path d="M395.8 395.9h8.6 M395.8 391.35h4.3 M395.8 386.79h4.3 M395.8 382.24h4.3 M395.8 377.69h4.3 M395.8 373.13h8.6 M395.8 368.58h4.3 M395.8 364.03h4.3 M395.8 359.47h4.3 M395.8 354.92h4.3 M395.8 350.37h8.6 M395.8 345.81h4.3 M395.8 341.26h4.3 M395.8 336.71h4.3 M395.8 332.16h4.3 M395.8 327.6h8.6 M395.8 323.05h4.3 M395.8 318.5h4.3 M395.8 313.94h4.3 M395.8 309.39h4.3 M395.8 304.84h8.6 M395.8 300.28h4.3 M395.8 295.73h4.3 M395.8 291.18h4.3 M395.8 286.62h4.3 M395.8 282.07h8.6 M395.8 277.52h4.3 M395.8 272.96h4.3 M395.8 268.41h4.3 M395.8 263.86h4.3 M395.8 259.3h8.6 M395.8 254.75h4.3 M395.8 250.2h4.3 M395.8 245.64h4.3 M395.8 241.09h4.3 M395.8 236.54h8.6 M395.8 231.99h4.3 M395.8 227.43h4.3 M395.8 395.9v-5.2 M403.42 395.9v-2.6 M411.05 395.9v-2.6 M418.67 395.9v-2.6 M426.29 395.9v-2.6 M433.91 395.9v-5.2 M441.54 395.9v-2.6 M449.16 395.9v-2.6 M456.78 395.9v-2.6 M464.41 395.9v-2.6 M472.03 395.9v-5.2 M479.65 395.9v-2.6 M487.27 395.9v-2.6 M494.9 395.9v-2.6 M502.52 395.9v-2.6 M510.14 395.9v-5.2 M517.77 395.9v-2.6 M525.39 395.9v-2.6 M533.01 395.9v-2.6 M540.64 395.9v-2.6 M548.26 395.9v-5.2 M555.88 395.9v-2.6 M563.5 395.9v-2.6 M571.13 395.9v-2.6 M578.75 395.9v-2.6 M586.37 395.9v-5.2 M594 395.9v-2.6 M601.62 395.9v-2.6 M609.24 395.9v-2.6 M616.86 395.9v-2.6 M624.49 395.9v-5.2 M632.11 395.9v-2.6 M639.73 395.9v-2.6 M647.36 395.9v-2.6 M654.98 395.9v-2.6 M662.6 395.9v-5.2 M670.22 395.9v-2.6 M677.85 395.9v-2.6" stroke="#1a1a1a" stroke-width="1.1" fill="none"/><g transform="translate(392.4,400.31) scale(1,1.1)"><text class="tl" x="-12.9" y="0">40</text></g><g transform="translate(392.4,377.55) scale(1,1.1)"><text class="tl" x="-12.9" y="0">50</text></g><g transform="translate(392.4,354.78) scale(1,1.1)"><text class="tl" x="-12.9" y="0">60</text></g><g transform="translate(392.4,332.02) scale(1,1.1)"><text class="tl" x="-12.9" y="0">70</text></g><g transform="translate(392.4,309.25) scale(1,1.1)"><text class="tl" x="-12.9" y="0">80</text></g><g transform="translate(392.4,286.49) scale(1,1.1)"><text class="tl" x="-12.9" y="0">90</text></g><g transform="translate(392.4,263.72) scale(1,1.1)"><text class="tl" x="-19.35" y="0"> 00</text><path d="M-16.65 0L-16.65 -6.63L-18.56 -5.43L-18.56 -6.68L-16.56 -7.98L-15.06 -7.98L-15.06 0Z" fill="#000"/></g><g transform="translate(392.4,240.95) scale(1,1.1)"><text class="tl" x="-19.35" y="0">  0</text><path d="M-16.65 0L-16.65 -6.63L-18.56 -5.43L-18.56 -6.68L-16.56 -7.98L-15.06 -7.98L-15.06 0Z M-10.2 0L-10.2 -6.63L-12.11 -5.43L-12.11 -6.68L-10.11 -7.98L-8.6 -7.98L-8.6 0Z" fill="#000"/></g><g transform="translate(395.8,408.56) scale(1,1.1)"><text class="tl" x="-3.23" y="0">0</text></g><g transform="translate(433.91,408.56) scale(1,1.1)"><text class="tl" x="-6.45" y="0">50</text></g><g transform="translate(472.03,408.56) scale(1,1.1)"><text class="tl" x="-9.68" y="0"> 00</text><path d="M-6.97 0L-6.97 -6.63L-8.88 -5.43L-8.88 -6.68L-6.88 -7.98L-5.38 -7.98L-5.38 0Z" fill="#000"/></g><g transform="translate(510.14,408.56) scale(1,1.1)"><text class="tl" x="-9.68" y="0"> 50</text><path d="M-6.97 0L-6.97 -6.63L-8.88 -5.43L-8.88 -6.68L-6.88 -7.98L-5.38 -7.98L-5.38 0Z" fill="#000"/></g><g transform="translate(548.26,408.56) scale(1,1.1)"><text class="tl" x="-9.68" y="0">200</text></g><g transform="translate(586.37,408.56) scale(1,1.1)"><text class="tl" x="-9.68" y="0">250</text></g><g transform="translate(624.49,408.56) scale(1,1.1)"><text class="tl" x="-9.68" y="0">300</text></g><g transform="translate(662.6,408.56) scale(1,1.1)"><text class="tl" x="-9.68" y="0">350</text></g><text class="tl" style="font-size:11.75px" transform="translate(678.8,419.9) scale(1,1.06)" text-anchor="end">azimuthal angle  <tspan style="font-weight:normal;fill:#333">Δϕ</tspan> (degrees)</text><text class="tl" style="font-size:11.4px" transform="translate(371.3,224.7) rotate(-90) scale(1,1.1)" x="0" y="0" text-anchor="end">Counts</text><text class="lt" transform="translate(405.2,249.3) scale(1.0,1)">d</text><path d="M395.8 336.37V350.83 M395.8 353.78V371.2 M412.95 328.62V343.55 M412.95 346.5V364.38 M430.1 259.27V277.98 M430.1 280.93V302.59 M447.25 304.7V321.01 M447.25 323.96V343.22 M464.41 270.06V288.23 M464.41 291.18V312.29 M481.56 316.52V332.16 M481.56 335.11V353.71 M498.71 301.56V318.05 M498.71 321V340.44 M515.86 338.07V352.43 M515.86 355.38V372.68 M533.01 357.52V370.64 M533.01 373.59V389.66 M550.16 338.07V352.43 M550.16 355.38V372.68 M567.32 319.18V334.67 M567.32 337.62V356.06 M584.47 297.23V313.95 M584.47 316.9V336.58 M601.62 251.37V270.47 M601.62 273.42V295.47 M618.77 265.27V283.67 M618.77 286.62V307.98 M635.92 289.76V306.89 M635.92 309.84V329.93 M653.07 309.28V325.34 M653.07 328.29V347.29" stroke="#000" stroke-width="1.35" fill="none"/><path d="M395.8 351.03L398.7 356.38L392.9 356.38Z M412.95 343.75L415.85 349.1L410.05 349.1Z M430.1 278.18L433 283.53L427.2 283.53Z M447.25 321.21L450.15 326.56L444.35 326.56Z M464.41 288.43L467.31 293.78L461.51 293.78Z M481.56 332.36L484.46 337.71L478.66 337.71Z M498.71 318.25L501.61 323.6L495.81 323.6Z M515.86 352.63L518.76 357.98L512.96 357.98Z M533.01 370.84L535.91 376.19L530.11 376.19Z M550.16 352.63L553.06 357.98L547.26 357.98Z M567.32 334.87L570.22 340.22L564.42 340.22Z M584.47 314.15L587.37 319.5L581.57 319.5Z M601.62 270.67L604.52 276.02L598.72 276.02Z M618.77 283.87L621.67 289.22L615.87 289.22Z M635.92 307.09L638.82 312.44L633.02 312.44Z M653.07 325.54L655.97 330.89L650.17 330.89Z" fill="#000"/><polyline points="395.8,356.7 396.94,356.66 398.07,356.53 399.21,356.32 400.35,356.03 401.49,355.65 402.62,355.2 403.76,354.66 404.9,354.05 406.03,353.36 407.17,352.59 408.31,351.76 409.44,350.85 410.58,349.87 411.72,348.83 412.86,347.72 413.99,346.56 415.13,345.34 416.27,344.07 417.4,342.74 418.54,341.37 419.68,339.96 420.82,338.51 421.95,337.02 423.09,335.51 424.23,333.97 425.36,332.4 426.5,330.82 427.64,329.22 428.78,327.62 429.91,326.01 431.05,324.39 432.19,322.79 433.32,321.19 434.46,319.6 435.6,318.03 436.73,316.48 437.87,314.95 439.01,313.46 440.15,311.99 441.28,310.57 442.42,309.18 443.56,307.84 444.69,306.55 445.83,305.31 446.97,304.13 448.11,303.01 449.24,301.94 450.38,300.94 451.52,300.01 452.65,299.15 453.79,298.36 454.93,297.64 456.07,297 457.2,296.44 458.34,295.96 459.48,295.56 460.61,295.24 461.75,295 462.89,294.85 464.02,294.78 465.16,294.79 466.3,294.89 467.44,295.07 468.57,295.34 469.71,295.68 470.85,296.11 471.98,296.62 473.12,297.21 474.26,297.87 475.4,298.61 476.53,299.43 477.67,300.31 478.81,301.27 479.94,302.29 481.08,303.37 482.22,304.51 483.36,305.72 484.49,306.97 485.63,308.28 486.77,309.63 487.9,311.03 489.04,312.47 490.18,313.95 491.31,315.45 492.45,316.98 493.59,318.54 494.73,320.12 495.86,321.71 497,323.32 498.14,324.92 499.27,326.54 500.41,328.15 501.55,329.75 502.69,331.34 503.82,332.92 504.96,334.48 506.1,336.01 507.23,337.52 508.37,338.99 509.51,340.43 510.65,341.83 511.78,343.18 512.92,344.49 514.06,345.75 515.19,346.95 516.33,348.09 517.47,349.18 518.6,350.2 519.74,351.15 520.88,352.04 522.02,352.85 523.15,353.6 524.29,354.26 525.43,354.85 526.56,355.36 527.7,355.79 528.84,356.13 529.98,356.4 531.11,356.58 532.25,356.68 533.39,356.69 534.52,356.62 535.66,356.47 536.8,356.23 537.94,355.91 539.07,355.51 540.21,355.03 541.35,354.47 542.48,353.83 543.62,353.12 544.76,352.33 545.89,351.46 547.03,350.53 548.17,349.53 549.31,348.47 550.44,347.35 551.58,346.16 552.72,344.92 553.85,343.63 554.99,342.3 556.13,340.91 557.27,339.49 558.4,338.02 559.54,336.53 560.68,335 561.81,333.45 562.95,331.88 564.09,330.29 565.23,328.69 566.36,327.09 567.5,325.47 568.64,323.86 569.77,322.26 570.91,320.66 572.05,319.08 573.18,317.51 574.32,315.97 575.46,314.45 576.6,312.97 577.73,311.52 578.87,310.11 580.01,308.74 581.14,307.41 582.28,306.14 583.42,304.92 584.56,303.75 585.69,302.65 586.83,301.61 587.97,300.63 589.1,299.72 590.24,298.88 591.38,298.12 592.52,297.42 593.65,296.81 594.79,296.28 595.93,295.82 597.06,295.44 598.2,295.15 599.34,294.94 600.47,294.82 601.61,294.77 602.75,294.82 603.89,294.94 605.02,295.15 606.16,295.44 607.3,295.81 608.43,296.27 609.57,296.8 610.71,297.42 611.85,298.11 612.98,298.87 614.12,299.71 615.26,300.62 616.39,301.59 617.53,302.64 618.67,303.74 619.81,304.9 620.94,306.12 622.08,307.4 623.22,308.72 624.35,310.09 625.49,311.5 626.63,312.95 627.76,314.44 628.9,315.95 630.04,317.5 631.18,319.06 632.31,320.64 633.45,322.24 634.59,323.85 635.72,325.46 636.86,327.07 638,328.68 639.14,330.28 640.27,331.86 641.41,333.44 642.55,334.99 643.68,336.51 644.82,338.01 645.96,339.47 647.1,340.9 648.23,342.28 649.37,343.62 650.51,344.91 651.64,346.15 652.78,347.33 653.92,348.46 655.05,349.52 656.19,350.52 657.33,351.45 658.47,352.32 659.6,353.11 660.74,353.82 661.88,354.46 663.01,355.02 664.15,355.51 665.29,355.91 666.43,356.23 667.56,356.47 668.7,356.62" fill="none" stroke="#ff0000" stroke-width="1.5"/><rect x="551.3" y="224.7" width="127.5" height="34.2" fill="#fff"/><path d="M551.3 224.7V258.9H678.8" fill="none" stroke="#808080" stroke-width="1.1"/><path d="M551.3 224.7H678.8V258.9" fill="none" stroke="#555" stroke-width="1.5"/><text class="st" transform="translate(557.6,233.8) scale(1,1.06)">χ<tspan dy="-3.3" font-size="6px">2</tspan><tspan dy="3.3"> / ndf</tspan></text><g transform="translate(672.3,234.5) scale(1,1.06)"><text class="st" x="-44.04" y="0"> 3.85 /  4</text><path d="M-41.55 0L-41.55 -5.98L-43.09 -4.88L-43.09 -5.7L-41.48 -6.81L-40.67 -6.81L-40.67 0Z M-8.52 0L-8.52 -5.98L-10.06 -4.88L-10.06 -5.7L-8.45 -6.81L-7.65 -6.81L-7.65 0Z" fill="#2a2a2a"/></g><text class="st" transform="translate(557.6,245.9) scale(1,1.06)">A</text><g transform="translate(672.3,245.5) scale(1,1.06)"><text class="st" x="-60.48" y="0">70.82 ± 2. 04</text><path d="M-14.03 0L-14.03 -5.98L-15.57 -4.88L-15.57 -5.7L-13.96 -6.81L-13.15 -6.81L-13.15 0Z" fill="#2a2a2a"/></g><text class="st" transform="translate(557.6,257.2) scale(1,1.06)">B</text><g transform="translate(672.3,256.6) scale(1,1.06)"><text class="st" x="-54.98" y="0"> 3.6 ± 2.934</text><path d="M-52.49 0L-52.49 -5.98L-54.02 -4.88L-54.02 -5.7L-52.41 -6.81L-51.61 -6.81L-51.61 0Z" fill="#2a2a2a"/></g><rect x="489.6" y="272.8" width="98.1" height="20" fill="#a7c9dd"/><text class="rt" transform="translate(495.6,287.3) scale(1,1.08)" style="font-style:italic;font-size:12.5px">R</text><text class="rt" x="507.2" y="290.1" style="font-size:15.8px">=</text><text class="rt" transform="translate(520.5,287.3) scale(1,1.1)" style="font-size:12.8px">1.48</text><text class="rt" transform="translate(546.5,288.3) scale(1,1.25)" y="1.2" style="font-size:14.5px">±</text><text class="rt" transform="translate(558,287.3) scale(1,1.1)" style="font-size:13.2px">0.13</text></g>
</svg></body></html>
